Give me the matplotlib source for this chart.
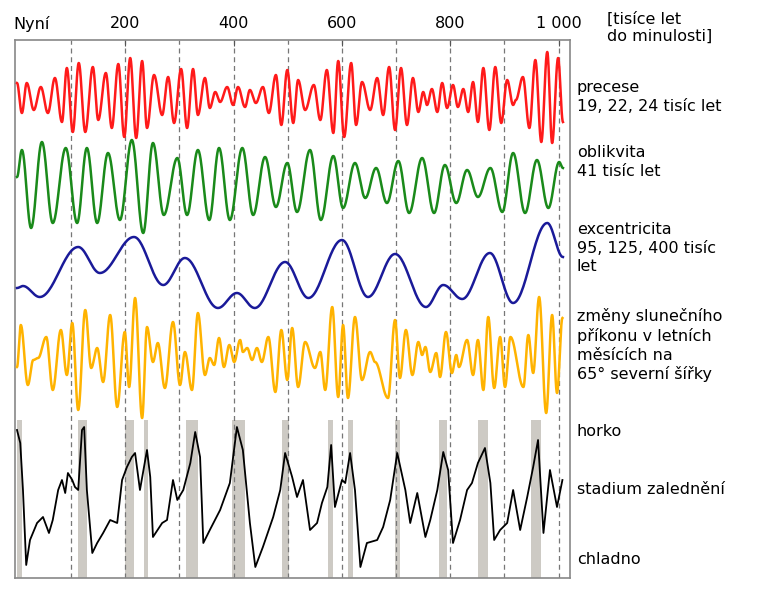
import numpy as np
import matplotlib
matplotlib.use("Agg")
import matplotlib.pyplot as plt

# times in thousands of years before present, values in arbitrary units
prec_t = [0,9,18,31,44,57,70,83,92,103,114,126,140,150,164,175,187,198,209,220,231,240,253,268,279,290,303,314,325,334,347,356,366,375,388,399,408,421,430,441,454,465,478,488,499,510,519,532,548,560,572,584,593,604,617,626,637,652,665,676,687,698,709,720,731,741,750,757,766,776,785,794,805,814,824,833,842,851,861,872,883,894,905,916,921,934,946,957,968,979,988,999,1008]
prec_v = [17,-13,17,-10,13,-13,22,-22,32,-32,37,-32,33,-20,27,-28,36,-37,42,-38,39,-28,25,-15,23,-23,31,-28,31,-15,22,-8,8,-2,13,-5,13,-7,10,-3,13,-13,25,-25,30,-23,20,-10,15,-20,30,-33,39,-37,37,-25,18,-10,22,-15,33,-30,32,-25,22,-12,8,-5,11,-12,17,-8,15,-7,11,-12,18,-22,32,-30,33,-23,20,-5,0,23,-28,40,-42,48,-43,42,-22]

obl_t = [0,9,26,46,66,90,111,129,148,168,190,212,233,251,271,296,314,334,355,373,393,416,436,458,478,499,517,541,561,584,602,624,643,663,683,704,724,748,770,790,811,831,851,874,896,916,938,960,981,1001,1008]
obl_v = [10,37,-41,45,-36,39,-36,39,-36,34,-33,47,-46,44,-28,29,-28,37,-33,39,-33,39,-28,30,-20,24,-25,37,-33,31,-21,24,-11,19,-16,26,-26,29,-26,22,-16,17,-10,19,-25,34,-26,27,-21,25,19]

ecc_t = [0,11,42,113,153,216,270,310,371,406,439,495,538,600,648,698,755,787,822,873,916,979,1008]
ecc_v = [-18,-16,-27,23,-3,33,-15,12,-38,-23,-38,8,-28,30,-27,16,-37,-15,-29,17,-33,47,13]

ins_t = [0,7,20,30,39,54,66,81,92,102,113,126,137,148,159,172,185,199,207,218,231,240,251,260,273,288,301,310,323,334,347,356,364,373,382,392,401,412,417,425,434,443,452,464,477,488,499,508,519,532,550,560,569,582,593,602,611,624,637,652,661,685,698,707,718,730,741,748,754,763,774,781,792,803,811,816,831,842,851,861,870,881,892,901,911,935,944,953,964,977,988,997,1007]
ins_v = [-9,33,-27,-2,0,21,-32,28,-17,35,-52,48,-10,10,-24,43,-49,26,-29,60,-60,31,-4,15,-30,36,-27,6,-32,45,-17,0,-7,20,-9,13,-4,18,6,10,-2,10,-4,21,-34,28,-22,30,-29,16,-10,6,-32,51,-39,33,-40,41,-22,6,-4,-40,38,-20,28,-17,16,3,11,-14,5,-19,26,-15,3,-9,18,-17,18,-32,41,-30,21,-29,21,-29,23,-15,61,-55,43,-35,40]

gl_t = [0,6,11,17,24,37,48,59,66,76,83,89,94,102,107,113,120,124,129,139,148,159,172,185,194,203,212,218,227,240,246,251,268,277,288,296,307,320,329,338,344,356,375,393,406,417,430,440,454,473,486,495,508,517,528,541,554,563,573,580,587,600,606,615,624,634,646,665,676,689,702,717,726,739,754,763,776,787,796,805,818,831,840,851,864,874,881,892,905,916,929,942,953,962,972,984,997,1007]
gl_v = [70,57,10,-65,-40,-23,-17,-33,-20,10,20,7,27,20,13,10,70,73,10,-53,-43,-33,-20,-23,20,33,43,47,10,50,23,-37,-23,-20,20,0,10,37,68,43,-43,-30,-10,17,73,50,-23,-67,-47,-17,10,47,23,3,20,-30,-23,-3,13,55,-7,20,17,47,10,-67,-43,-40,-27,0,47,10,-23,7,-37,-20,10,48,30,-43,-20,10,17,37,52,17,-40,-30,-23,10,-30,3,33,60,-33,30,-7,20]

warm_periods = [(0,9),(113,129),(199,216),(235,242),(312,334),(397,421),(489,502),(574,584),(611,621),(698,707),(779,794),(851,870),(949,968)]

ticks = [200, 400, 600, 800, 1000]
tick_labels = ["200", "400", "600", "800", "1 000"]

def smooth(t, v, n=30):
    xs, ys = [], []
    for i in range(len(t) - 1):
        s = np.linspace(0, 1, n, endpoint=False)
        w = (1 - np.cos(np.pi * s)) / 2
        xs.append(t[i] + (t[i+1] - t[i]) * s)
        ys.append(v[i] + (v[i+1] - v[i]) * w)
    xs.append([t[-1]]); ys.append([v[-1]])
    return np.concatenate(xs), np.concatenate(ys)

fig = plt.figure(figsize=(7.74, 6.0), dpi=100)
W, H = 774, 600
ax = fig.add_axes([15/W, 1 - 578/H, (570-15)/W, (578-40)/H])
ax.set_xlim(-3.7, 1021)
ax.set_ylim(578, 40)

for k in range(1, 11):
    ax.axvline(k*100, color="#777777", lw=0.9, ls=(0, (4, 3)), zorder=1)
for a, b in warm_periods:
    ax.axvspan(a, b, ymin=0, ymax=(578-420)/(578-40), color="#cdcac4", lw=0, zorder=0)

for (t, v, c, cy) in [(prec_t, prec_v, "#ff1a1a", 100), (obl_t, obl_v, "#1a8a1a", 187),
                      (ecc_t, ecc_v, "#1a1a99", 270), (ins_t, ins_v, "#ffb300", 358)]:
    x, y = smooth(t, v)
    ax.plot(x, cy - y, color=c, lw=1.8, zorder=3)
ax.plot(gl_t, 500 - np.array(gl_v), color="black", lw=1.3, zorder=3)

ax.set_xticks(ticks)
ax.set_xticklabels([])
ax.tick_params(axis="x", top=True, bottom=False, direction="in", length=4, color="#555555")
ax.set_yticks([])
for s in ax.spines.values():
    s.set_color("#888888"); s.set_linewidth(1.2)

fs = 11.5
fig.text(13/W, 1 - 24/H, "Nyní", fontsize=fs, va="center", ha="left")
for t, lab in zip(ticks, tick_labels):
    fig.text((17 + t*0.5415)/W, 1 - 24/H, lab, fontsize=fs, va="center", ha="center")
fig.text(607/W, 1 - 12/H, "[tisíce let\ndo minulosti]", fontsize=fs, va="top", ha="left", linespacing=1.15)
labels = [(80, "precese\n19, 22, 24 tisíc let"), (145, "oblikvita\n41 tisíc let"),
          (222, "excentricita\n95, 125, 400 tisíc\nlet"),
          (308, "změny slunečního\npříkonu v letních\nměsících na\n65° severní šířky")]
for y, s in labels:
    fig.text(577/W, 1 - y/H, s, fontsize=fs, va="top", ha="left", linespacing=1.3)
for y, s in [(432, "horko"), (490, "stadium zalednění"), (560, "chladno")]:
    fig.text(577/W, 1 - y/H, s, fontsize=fs, va="center", ha="left")

fig.savefig("out.png", dpi=100)
